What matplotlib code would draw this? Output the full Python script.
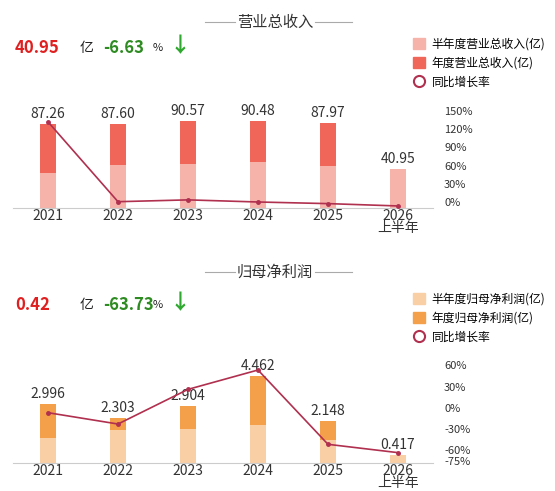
import matplotlib
matplotlib.use("Agg")
import matplotlib.pyplot as plt
from matplotlib.patches import Patch
from matplotlib.lines import Line2D

plt.rcParams['font.family'] = ['Noto Sans CJK SC', 'DejaVu Sans']

years = ["2021", "2022", "2023", "2024", "2025", "2026\n上半年"]
rev_annual = [87.26, 87.60, 90.57, 90.48, 87.97, None]
rev_half = [36.4, 44.7, 45.8, 48.0, 43.7, 40.95]
rev_growth = [132.0, 0.39, 3.39, -0.10, -2.78, -6.63]
rev_labels = ["87.26", "87.60", "90.57", "90.48", "87.97", "40.95"]

np_annual = [2.996, 2.303, 2.904, 4.462, 2.148, None]
np_half = [1.25, 1.66, 1.71, 1.93, 1.18, 0.417]
np_growth = [-7.0, -23.1, 26.1, 53.6, -51.9, -63.73]
np_labels = ["2.996", "2.303", "2.904", "4.462", "2.148", "0.417"]

W, H = 555, 491
fig = plt.figure(figsize=(W/100, H/100), dpi=100)
line_c = '#B0304F'

def panel(bottom_px, height_px, annual, half, growth, labels, dark, light,
          lylim, rylim, rticks, title, title_y, big, pct, vy, leg_names, leg_y):
    ax = fig.add_axes([13/W, (H-bottom_px)/H, 420/W, height_px/H])
    x = list(range(len(years)))
    w = 0.23
    for i in x:
        if annual[i] is not None:
            ax.bar(i, annual[i], w, color=dark, zorder=1)
        ax.bar(i, half[i], w, color=light, zorder=2)
        top = annual[i] if annual[i] is not None else half[i]
        ax.text(i, top + lylim[1]*0.025, labels[i], ha='center', va='bottom',
                fontsize=10, color='#333333')
    ax.set_xlim(-0.5, 5.5)
    ax.set_ylim(*lylim)
    ax.set_yticks([])
    ax.set_xticks(x)
    ax.set_xticklabels(years, fontsize=10, color='#333333', linespacing=0.8)
    ax.tick_params(axis='x', length=0, pad=1)
    for s in ['top', 'right', 'left']:
        ax.spines[s].set_visible(False)
    ax.spines['bottom'].set_color('#cccccc')
    ax2 = ax.twinx()
    ax2.plot(x, growth, color=line_c, lw=1.2, marker='o', ms=2.5, zorder=5)
    ax2.set_ylim(*rylim)
    ax2.set_yticks(rticks)
    ax2.set_yticklabels([f"{t}%" for t in rticks], fontsize=8, color='#333333')
    ax2.tick_params(axis='y', length=0, pad=8)
    for s in ['top', 'right', 'left', 'bottom']:
        ax2.spines[s].set_visible(False)
    fig.text(275/W, 1-title_y/H, title, ha='center', va='center', fontsize=11, color='#333333')
    fig.add_artist(Line2D([205/W, 235/W], [1-title_y/H]*2, color='#aaaaaa', lw=0.8))
    fig.add_artist(Line2D([315/W, 352/W], [1-title_y/H]*2, color='#aaaaaa', lw=0.8))
    yy = 1-vy/H
    fig.text(15/W, yy, big, fontsize=12, fontweight='bold', color='#E02020', va='center')
    fig.text(80/W, yy, "亿", fontsize=10, color='#222222', va='center')
    fig.text(103/W, yy, pct, fontsize=12, fontweight='bold', color='#2E8B22', va='center')
    fig.text(153/W, yy, "%", fontsize=8, color='#222222', va='center')
    fig.text(170/W, yy+0.005, "↓", fontsize=15, fontweight='bold', color='#2EA82E', va='center')
    handles = [Patch(color=light), Patch(color=dark),
               Line2D([], [], ls='none', marker='o', mfc='white', mec=line_c, ms=8, mew=1.5)]
    fig.legend(handles, leg_names, loc='upper left', bbox_to_anchor=(408/W, 1-leg_y/H),
               frameon=False, fontsize=8.5, handlelength=1.0, handleheight=1.0,
               handletextpad=0.6, labelspacing=0.5, borderaxespad=0)
    return ax

panel(208, 108, rev_annual, rev_half, rev_growth, rev_labels, '#F0675A', '#F6B3AA',
      (0, 112), (-10, 168), [0, 30, 60, 90, 120, 150], "营业总收入", 22,
      "40.95", "-6.63", 48, ["半年度营业总收入(亿)", "年度营业总收入(亿)", "同比增长率"], 33)
panel(462.7, 112.7, np_annual, np_half, np_growth, np_labels, '#F4A04A', '#F9CFA5',
      (0, 5.78), (-78, 82), [-75, -60, -30, 0, 30, 60], "归母净利润", 272,
      "0.42", "-63.73", 305, ["半年度归母净利润(亿)", "年度归母净利润(亿)", "同比增长率"], 288)

fig.savefig("out.png", dpi=100)
